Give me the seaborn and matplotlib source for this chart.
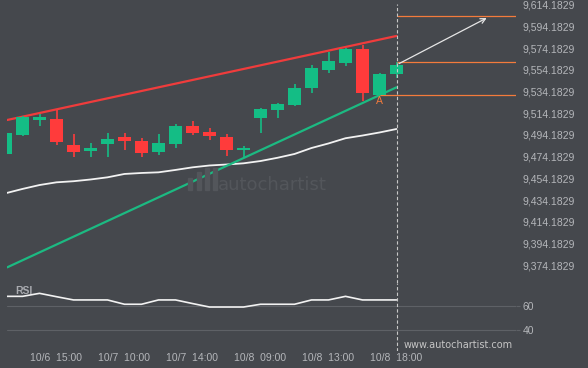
import numpy as np
import pandas as pd
import matplotlib
matplotlib.use("Agg")
import matplotlib.pyplot as plt
from matplotlib.patches import Rectangle
import seaborn as sns

# ---------------- data ----------------
opens  = [9476.9, 9494.5, 9508.3, 9508.9, 9485.0, 9479.5, 9485.9, 9492.4, 9488.7, 9478.8, 9486.2, 9502.8,
          9497.2, 9492.4, 9480.4, 9510.1, 9517.2, 9521.8, 9537.8, 9554.3, 9560.5, 9573.4, 9531.0, 9550.6]
highs  = [9496.0, 9511.7, 9513.5, 9517.2, 9495.1, 9486.8, 9496.0, 9496.0, 9491.2, 9495.1, 9504.3, 9506.8,
          9500.4, 9494.8, 9484.1, 9519.3, 9523.9, 9541.2, 9558.7, 9570.6, 9574.3, 9577.1, 9551.3, 9561.1]
lows   = [9476.9, 9493.6, 9502.8, 9484.7, 9473.7, 9474.2, 9474.2, 9480.7, 9474.2, 9475.8, 9482.5, 9494.5,
          9489.3, 9475.1, 9473.7, 9495.8, 9510.1, 9520.9, 9532.6, 9551.6, 9557.7, 9525.8, 9531.0, 9546.4]
closes = [9496.0, 9510.5, 9510.8, 9487.7, 9478.5, 9482.2, 9490.5, 9488.7, 9477.9, 9487.1, 9502.8, 9496.0,
          9493.3, 9480.4, 9482.2, 9518.4, 9522.7, 9537.5, 9556.2, 9562.3, 9573.4, 9533.2, 9550.4, 9558.7]
ma_vals = [9440.5, 9444.5, 9448.1, 9450.6, 9451.6, 9453.2, 9455.2, 9458.3, 9459.2, 9459.8, 9462.0, 9464.4,
           9466.1, 9467.0, 9468.1, 9470.2, 9473.2, 9476.7, 9482.2, 9486.4, 9491.2, 9493.7, 9496.5, 9499.7]
rsi_vals = [68.3, 68.3, 70.8, 68.0, 65.3, 65.3, 65.3, 61.7, 61.7, 65.3, 65.3, 62.3,
            59.4, 59.4, 59.4, 61.7, 61.7, 61.7, 65.3, 65.3, 68.3, 65.3, 65.3, 65.3]

tick_idx = [3, 7, 11, 15, 19, 23]
tick_labels = ["10/6  15:00", "10/7  10:00", "10/7  14:00", "10/8  09:00", "10/8  13:00", "10/8  18:00"]

resist_x = [0.1, 23.0]
resist_y = [9508.0, 9585.4]
support_x = [0.1, 23.0]
support_y = [9372.3, 9538.1]

level_top = 9603.8
level_mid = 9561.1
level_low = 9530.7
arrow_start = (23.0, 9558.7)
arrow_end = (28.45, 9603.1)

price_ticks = [9374.1829 + 20 * k for k in range(13)]
rsi_ticks = [40, 60]

# ---------------- style ----------------
BG = "#45484d"
GREEN = "#14bd85"
RED = "#ff3b3b"
ORANGE = "#f47b3c"
TXT = "#b4b6ba"

sns.set_theme(style="dark", rc={"axes.facecolor": BG, "figure.facecolor": BG})
plt.rcParams["font.family"] = ["Liberation Sans", "DejaVu Sans"]

W, H = 588, 368
fig = plt.figure(figsize=(W / 100, H / 100), dpi=100)

def fx(px):
    return px / W

def fy(py):
    return 1 - py / H

L, R = 7, 516
ax = fig.add_axes([fx(L), fy(283), fx(R - L), (283 - 2) / H])
axr = fig.add_axes([fx(L), fy(351), fx(R - L), (351 - 283) / H], sharex=ax)

for a in (ax, axr):
    a.set_facecolor(BG)
    for s in a.spines.values():
        s.set_visible(False)
    a.grid(False)

# price -> pixel mapping: 9614.18 at y=4.7, 1.0858 px/unit
def p_at(py):
    return 9614.18 - (py - 4.7) / 1.0858

ax.set_ylim(p_at(283), p_at(2))
ax.set_xlim((L - 5.5) / 17, (R - 5.5) / 17)

idx = np.arange(len(opens))
df = pd.DataFrame({"i": idx, "o": opens, "h": highs, "l": lows, "c": closes, "ma": ma_vals, "rsi": rsi_vals})
cols = [GREEN if c >= o else RED for o, c in zip(df.o, df.c)]

# moving average
sns.lineplot(data=df, x="i", y="ma", ax=ax, color="#f2f2f2", lw=1.3, zorder=2)

# trend lines
sns.lineplot(x=support_x, y=support_y, ax=ax, color="#1cba82", lw=1.6, zorder=2)
sns.lineplot(x=resist_x, y=resist_y, ax=ax, color="#f03c3c", lw=1.6, zorder=2)

# candles
ax.vlines(df.i, df.l, df.h, colors=cols, lw=1.2, zorder=3)
ax.bar(df.i, (df.c - df.o).abs().clip(lower=1.5), bottom=np.minimum(df.o, df.c),
       width=0.76, color=cols, linewidth=0, zorder=4)

# levels
ax.hlines([level_top, level_mid], 23, 30.03, colors=ORANGE, lw=0.9, zorder=3)
ax.hlines([level_low], 22, 30.03, colors=ORANGE, lw=0.9, zorder=3)
ax.annotate("", xy=arrow_end, xytext=arrow_start,
            arrowprops=dict(arrowstyle="->", color="#e6e6e6", lw=0.9, mutation_scale=9), zorder=5)
ax.text(22.0, p_at(101.3), "A", color=ORANGE, fontsize=7.5, ha="center", va="center", zorder=5)

# vertical dashed line
ax.axvline(23, ymax=(283 - 4) / 281, color="#c8c8c8", lw=0.8, ls=(0, (3, 2)), zorder=5)
axr.axvline(23, color="#c8c8c8", lw=0.8, ls=(0, (3, 2)), zorder=5)

# price axis
ax.yaxis.tick_right()
ax.set_yticks(price_ticks)
ax.set_yticklabels([f"{v:,.4f}" for v in price_ticks])
ax.tick_params(axis="y", length=0, pad=4.8, labelsize=7.5, labelcolor=TXT)
ax.tick_params(axis="x", length=0, labelbottom=False)
ax.set_xlabel("")
ax.set_ylabel("")

# RSI panel
axr.set_ylim(60 - (351 - 306.3) / 1.2, 60 + (306.3 - 283) / 1.2)
sns.lineplot(data=df, x="i", y="rsi", ax=axr, color="#f2f2f2", lw=1.2, zorder=3)
for v in rsi_ticks:
    axr.axhline(v, color="#5e6166", lw=0.8, zorder=1)
axr.yaxis.tick_right()
axr.set_yticks(rsi_ticks)
axr.set_yticklabels([str(v) for v in rsi_ticks])
axr.tick_params(axis="y", length=3, width=0.8, color="#5e6166", pad=1.8, labelsize=7.5, labelcolor=TXT)
axr.set_xticks(tick_idx)
axr.set_xticklabels(tick_labels)
axr.tick_params(axis="x", length=0, pad=1.5, labelsize=7.5, labelcolor=TXT)
axr.set_xlabel("")
axr.set_ylabel("")
axr.set_xlim((L - 5.5) / 17, (R - 5.5) / 17)

# texts
fig.text(fx(15), fy(290.7), "RSI", color="#a9abb0", fontsize=7.5, fontweight="bold", ha="left", va="center")
fig.text(fx(513), fy(344.7), "www.autochartist.com", color="#c5c5c5", fontsize=7,
         family="DejaVu Sans", ha="right", va="center")

# watermark
WM = "#53565b"
for bx, btop in [(188, 178), (197, 172), (205, 168), (213, 168)]:
    fig.patches.append(Rectangle((fx(bx), fy(190)), fx(4), (190 - btop) / H,
                                 transform=fig.transFigure, color=WM, zorder=0.5))
fig.text(fx(218), fy(185), "autochartist", color=WM, fontsize=13, family="DejaVu Sans",
         ha="left", va="center", zorder=0.5)

fig.savefig("out.png", dpi=100, facecolor=BG)
